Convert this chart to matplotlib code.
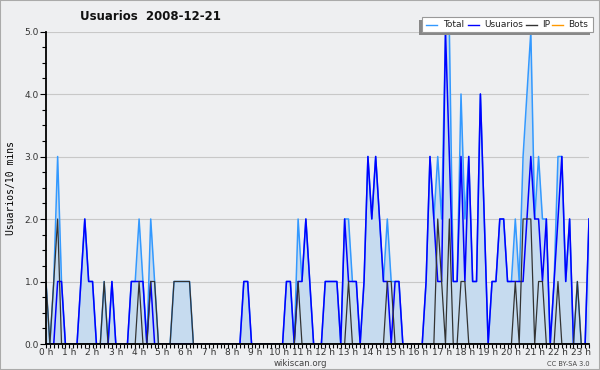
import matplotlib
matplotlib.use("Agg")
import matplotlib.pyplot as plt
from matplotlib.patches import Rectangle
from matplotlib.lines import Line2D
from matplotlib.ticker import MultipleLocator
import numpy as np

# users per 10-minute slot, 2008-12-21 (slot i -> i/6 hours)
total = [1, 0, 1, 3, 1, 0, 0, 0, 0, 1, 2, 1, 1, 0, 0, 1, 0, 1, 0, 0,
         0, 0, 1, 1, 2, 1, 0, 2, 1, 0, 0, 0, 0, 1, 1, 1, 1, 1, 0, 0,
         0, 0, 0, 0, 0, 0, 0, 0, 0, 0, 0, 1, 1, 0, 0, 0, 0, 0, 0, 0,
         0, 0, 1, 1, 0, 2, 1, 2, 1, 0, 0, 0, 1, 1, 1, 1, 0, 2, 2, 1,
         1, 0, 1, 3, 2, 3, 2, 1, 2, 1, 1, 1, 0, 0, 0, 0, 0, 0, 1, 3,
         2, 3, 2, 5, 5, 1, 1, 4, 2, 3, 1, 1, 4, 2, 0, 1, 1, 2, 2, 1,
         1, 2, 1, 3, 4, 5, 2, 3, 2, 2, 0, 1, 3, 3, 1, 2, 0, 1, 0, 0,
         2]
usuarios = [0, 0, 0, 1, 1, 0, 0, 0, 0, 1, 2, 1, 1, 0, 0, 0, 0, 1, 0, 0,
            0, 0, 1, 1, 1, 1, 0, 1, 0, 0, 0, 0, 0, 0, 0, 0, 0, 0, 0, 0,
            0, 0, 0, 0, 0, 0, 0, 0, 0, 0, 0, 1, 1, 0, 0, 0, 0, 0, 0, 0,
            0, 0, 1, 1, 0, 1, 1, 2, 1, 0, 0, 0, 1, 1, 1, 1, 0, 2, 1, 1,
            1, 0, 1, 3, 2, 3, 2, 1, 1, 0, 1, 1, 0, 0, 0, 0, 0, 0, 1, 3,
            2, 1, 1, 5, 3, 1, 1, 3, 1, 3, 1, 1, 4, 2, 0, 1, 1, 2, 2, 1,
            1, 1, 1, 1, 2, 3, 2, 2, 1, 2, 0, 1, 2, 3, 1, 2, 0, 0, 0, 0,
            2]
ip = [1, 0, 1, 2, 0, 0, 0, 0, 0, 0, 0, 0, 0, 0, 0, 1, 0, 0, 0, 0,
      0, 0, 0, 0, 1, 0, 0, 1, 1, 0, 0, 0, 0, 1, 1, 1, 1, 1, 0, 0,
      0, 0, 0, 0, 0, 0, 0, 0, 0, 0, 0, 0, 0, 0, 0, 0, 0, 0, 0, 0,
      0, 0, 0, 0, 0, 1, 0, 0, 0, 0, 0, 0, 0, 0, 0, 0, 0, 0, 1, 0,
      0, 0, 0, 0, 0, 0, 0, 0, 1, 1, 0, 0, 0, 0, 0, 0, 0, 0, 0, 0,
      0, 2, 1, 0, 2, 0, 0, 1, 1, 0, 0, 0, 0, 0, 0, 0, 0, 0, 0, 0,
      0, 1, 0, 2, 2, 2, 0, 1, 1, 0, 0, 0, 1, 0, 0, 0, 0, 1, 0, 0,
      0]
bots = [0] * len(total)

hour_labels = [f"{h} h" for h in range(24)]

BG = "#eeeff1"
C_TOTAL = "#3399ff"
C_USERS = "#0000ff"
C_IP = "#333333"
C_BOTS = "#ff9900"
C_FILL = "#c6dbef"

W, H = 600, 370
fig = plt.figure(figsize=(6, 3.7), dpi=100, facecolor=BG)
ax = fig.add_axes([46 / W, 1 - 344 / H, (589 - 46) / W, (344 - 31.5) / H])
ax.set_facecolor(BG)

x = np.arange(len(total)) / 6.0

ax.fill_between(x, total, 0, color=C_FILL, lw=0, zorder=1)
ax.plot(x, bots, color=C_BOTS, lw=1.0, zorder=1.5)
ax.plot(x, total, color=C_TOTAL, lw=1.1, zorder=2)
ax.plot(x, usuarios, color=C_USERS, lw=1.1, zorder=3)
ax.plot(x, ip, color=C_IP, lw=0.9, zorder=4)

ax.set_xlim(0, x[-1])
ax.set_ylim(0, 5)

ax.yaxis.set_major_locator(MultipleLocator(1))
ax.yaxis.set_minor_locator(MultipleLocator(0.25))
ax.set_yticklabels([f"{v:.1f}" for v in ax.get_yticks()])
ax.set_xticks(range(24))
ax.set_xticklabels(hour_labels)
ax.xaxis.set_minor_locator(MultipleLocator(1 / 6))

ax.grid(axis="y", which="major", color="#c8c8c8", lw=0.8, zorder=0)
ax.set_axisbelow(True)

for s in ["top", "right"]:
    ax.spines[s].set_visible(False)
for s in ["left", "bottom"]:
    ax.spines[s].set_linewidth(1.3)
    ax.spines[s].set_color("black")
    ax.spines[s].set_zorder(5)

ax.tick_params(axis="y", which="major", length=4, width=0.8,
               labelsize=6.5, colors="black", labelcolor="#333333", pad=1)
ax.tick_params(axis="y", which="minor", length=3, width=0.8)
ax.tick_params(axis="x", which="both", length=3, width=0.8,
               labelsize=6.5, colors="black", labelcolor="#333333", pad=0)

ax.set_ylabel("Usuarios/10 mins", family="DejaVu Sans Mono", fontsize=7,
              labelpad=6)

fig.text(150 / W, 1 - 16 / H, "Usuarios  2008-12-21", ha="center", va="center",
         fontsize=8.5, fontweight="bold", color="#111111")
fig.text(300 / W, 1 - 364 / H, "wikiscan.org", ha="center", va="center",
         fontsize=6.2, color="#444444")
fig.text(590 / W, 1 - 364 / H, "CC BY-SA 3.0", ha="right", va="center",
         fontsize=4.8, color="#444444")

# legend box with grey shadow
def px(xp, yp):
    return xp / W, 1 - yp / H

fig.patches.append(Rectangle(px(419, 35), 171 / W, 15 / H,
                             transform=fig.transFigure, facecolor="#888888",
                             edgecolor="none", zorder=10))
fig.patches.append(Rectangle(px(422, 32), 171 / W, 15 / H,
                             transform=fig.transFigure, facecolor="white",
                             edgecolor="#999999", lw=0.8, zorder=11))
entries = [("Total", C_TOTAL, 426, 443), ("Usuarios", C_USERS, 468, 484),
           ("IP", C_IP, 526, 542), ("Bots", C_BOTS, 552, 568)]
for label, col, lx, tx in entries:
    x0, y0 = px(lx, 24.5)
    x1, _ = px(lx + 11, 24.5)
    fig.lines.append(Line2D([x0, x1], [y0, y0], transform=fig.transFigure,
                            color=col, lw=1.0, zorder=12))
    fig.text(tx / W, y0, label, ha="left", va="center", fontsize=6.5,
             color="#222222", zorder=12)

# outer border
fig.patches.append(Rectangle((0, 0), 1, 1, transform=fig.transFigure,
                             facecolor="none", edgecolor="#aaaaaa", lw=1.5,
                             zorder=20))

fig.savefig("out.png", dpi=100, facecolor=BG)
